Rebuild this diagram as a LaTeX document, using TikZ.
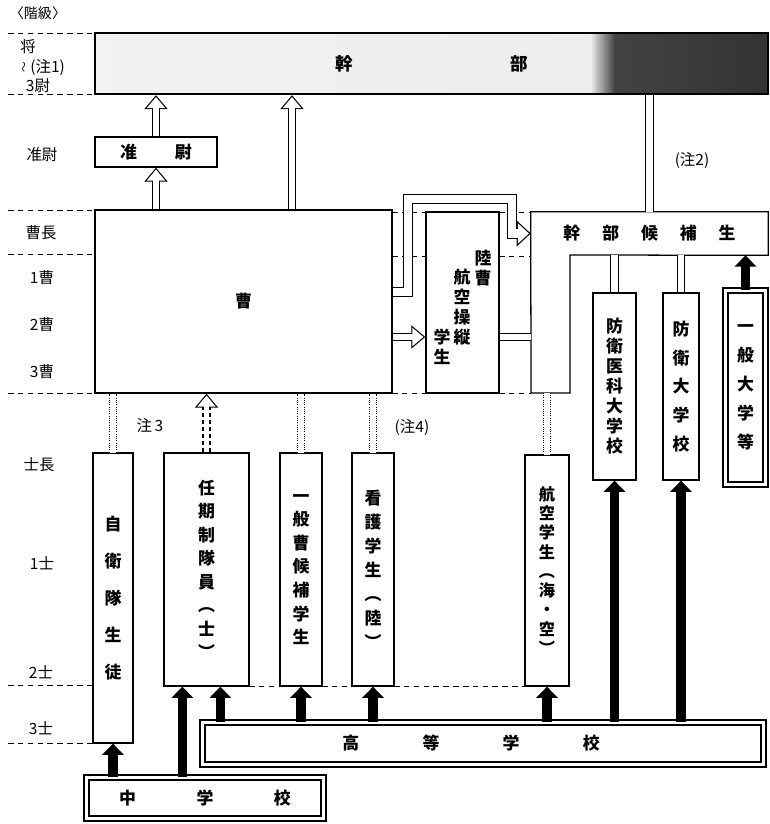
\documentclass[tikz,border=0pt]{standalone}
\usepackage{fontspec}
\setmainfont{Noto Sans CJK JP}
\usetikzlibrary{arrows.meta,calc}
\newcommand\pxu{0.025cm}
\pgfdeclarehorizontalshading{kanbushade}{100bp}{color(0bp)=(black!4); color(61.8bp)=(black!7); color(63.6bp)=(black!74); color(75bp)=(black!80); color(100bp)=(black!80)}
\tikzset{>=Stealth,font=\fontsize{11}{13}\selectfont,
  sz/.style 2 args={minimum width=#1*\pxu,minimum height=#2*\pxu},
  box/.style={draw,line width=0.9pt,fill=white,inner sep=0pt,align=center,
    font=\bfseries\fontsize{12}{#1}\selectfont},
  box/.default=17,
  rank/.style={inner sep=0pt},
  rline/.style={line width=0.7pt,dash pattern=on 4pt off 3pt},
  fat/.style={line width=6.5pt,-{Triangle[length=8pt,width=15pt]}},
  hollow/.style={line width=5.8pt,-{Triangle[length=10pt,width=16pt]},
    postaction={draw=white,line width=4.2pt,-{Triangle[length=7.9pt,width=12.6pt]},shorten >=1.3pt}},
  hollowwide/.style={line width=7.6pt,-{Triangle[length=10pt,width=18pt]},
    postaction={draw=white,line width=6pt,-{Triangle[length=7.9pt,width=14.2pt]},shorten >=1.3pt}},
  link/.style={double,double distance=4.5pt,line width=0.6pt},
  dlink/.style={link,densely dotted}}

\begin{document}
\begin{tikzpicture}[x=0.025cm,y=-0.025cm]
\useasboundingbox (0,0) rectangle (770,824);
% rank column
\node[rank,font=\fontsize{10}{12}\selectfont] (L0) at (38,13) {〈階級〉};
\node[rank] (L1) at (28,47) {将};
\node[rank,anchor=west] (L2) at (22,67) {\scalebox{0.7}{\rotatebox{90}{〜}}\,(注1)};
\node[rank] (L3) at (38,86) {3尉};
\node[rank] (L4) at (42,155) {准尉};
\node[rank] (L5) at (41,233) {曹長};
\node[rank] (L6) at (42,278) {1曹};
\node[rank] (L7) at (42,325) {2曹};
\node[rank] (L8) at (42,372) {3曹};
\node[rank] (L9) at (39,465) {士長};
\node[rank] (L10) at (42,563) {1士};
\node[rank] (L11) at (41,672) {2士};
\node[rank] (L12) at (41,728) {3士};
\draw[rline] (8,33) -- (95,33) (8,94) -- (95,94) (8,210) -- (95,210)
  (8,254) -- (95,254) (8,393) -- (95,393) (8,685) -- (93,685) (8,743) -- (93,743)
  (392,212) -- (426,212) (499,212) -- (531,212) (392,256) -- (426,256)
  (499,256) -- (531,256) (392,393) -- (426,393) (499,393) -- (531,393)
  (249,686) -- (280,686) (322,686) -- (352,686) (394,686) -- (525,686);

% boxes
\node[box,shade,shading=kanbushade,line width=1.6pt,sz={673}{61},
  font=\bfseries\fontsize{12.5}{15}\selectfont] (K) at (431.5,63.5) {幹\hspace{112pt}部};
\node[box,sz={122}{30}] (JI) at (156,152) {准\hspace{27pt}尉};
\node[box,sz={297}{183}] (S) at (243.5,301.5) {曹};
\node[box,sz={73}{181}] (RS) at (462.5,302.5) {};
\node[inner sep=0pt,align=center,font=\bfseries\fontsize{12}{14.2}\selectfont] (RS1) at (483,268) {陸\\曹};
\node[inner sep=0pt,align=center,font=\bfseries\fontsize{12}{14.2}\selectfont] (RS2) at (462,307.5) {航\\空\\操\\縦};
\node[inner sep=0pt,align=center,font=\bfseries\fontsize{12}{14.2}\selectfont] (RS3) at (442,347) {学\\生};
\node[inner sep=0pt,sz={237}{43},font=\bfseries\fontsize{12}{14}\selectfont] (KC) at (649.5,233.5)
  {幹\hspace{15.6pt}部\hspace{15.6pt}候\hspace{15.6pt}補\hspace{15.6pt}生};
\draw[line width=0.9pt] (KC.north west) -- (KC.north east) -- (KC.south east)
  -- (570,255) -- (570,393) -- (531,393) -- cycle;
\coordinate (KL) at (550.5,393);
\node[box=14.2,sz={43}{187}] (BI) at (614.5,386.5) {防\\衛\\医\\科\\大\\学\\校};
\node[box=20.5,sz={36}{187}] (BD) at (681,386.5) {防\\衛\\大\\学\\校};
\node[box=20.6,double,double distance=2.7pt,line width=0.8pt,sz={40}{194}] (UD) at (745.5,387.5) {一\\般\\大\\学\\等};
\node[box=26.3,sz={40}{290}] (JE) at (113,598) {自\\衛\\隊\\生\\徒};
\node[box=16.7,sz={85}{233}] (NI) at (206.5,569.5) {任\\期\\制\\隊\\員\\︵\\士\\︶};
\node[box=16.8,sz={42}{233}] (IS) at (301,569.5) {一\\般\\曹\\候\\補\\学\\生};
\node[box=17,sz={42}{233}] (KG) at (373,569.5) {看\\護\\学\\生\\︵\\陸\\︶};
\node[box,sz={44}{231},font=\bfseries\fontsize{11.5}{13.7}\selectfont] (KU) at (547,570.5)
  {航\\空\\学\\生\\︵\\海\\・\\空\\︶};
\node[box,double,double distance=2.7pt,line width=0.8pt,sz={561}{42}] (KO) at (483,743.5)
  {高\hspace{45pt}等\hspace{45pt}学\hspace{45pt}校\hspace*{17pt}};
\node[box,double,double distance=2.7pt,line width=0.8pt,sz={237}{41}] (CH) at (205,798)
  {中\hspace{43pt}学\hspace{43pt}校};

% notes
\node[inner sep=0pt] (N2) at (692,160) {(注2)};
\node[inner sep=0pt] (N3) at (150,425) {注\,3};
\node[inner sep=0pt] (N4) at (412,427) {(注4)};

% promotions
\draw[hollow] (JI.north) -- (JI.north |- K.south);
\draw[hollow] (S.north -| JI.north) -- (JI.south);
\draw[hollow] ([xshift=48.5*\pxu]S.north) -- ([xshift=48.5*\pxu]S.north |- K.south);
\draw[hollowwide] ([yshift=9.5*\pxu]S.east) -| (408,199) -- (512,199) |- (KC.west);
\coordinate (r1) at ([yshift=-34.5*\pxu]RS.west);
\draw[hollow] (S.east |- r1) -- (r1);
\draw[link] (RS.east |- r1) -- (KC.west |- r1);
\draw[link] (KC.north) -- (KC.north |- K.south);
\draw[link] (BI.north) -- (BI.north |- KC.south);
\draw[link] (BD.north) -- (BD.north |- KC.south);
\draw[dlink] (JE.north) -- (JE.north |- S.south);
\draw[dlink] (IS.north) -- (IS.north |- S.south);
\draw[dlink] (KG.north) -- (KG.north |- S.south);
\draw[dlink] (KU.north) -- (KU.north |- KL);
\draw[hollow,densely dashed] (NI.north) -- (NI.north |- S.south);

% entry
\coordinate (n1) at ($(NI.south west)!0.22!(NI.south east)$);
\coordinate (n2) at ($(NI.south west)!0.66!(NI.south east)$);
\path[fat] (CH.north -| JE) edge (JE.south)
  (CH.north -| n1) edge (n1)
  (KO.north -| n2) edge (n2)
  (KO.north -| IS) edge (IS.south)
  (KO.north -| KG) edge (KG.south)
  (KO.north -| KU) edge (KU.south)
  (KO.north -| BI) edge (BI.south)
  (KO.north -| BD) edge (BD.south)
  (UD.north) edge (UD.north |- KC.south);
\end{tikzpicture}
\end{document}
